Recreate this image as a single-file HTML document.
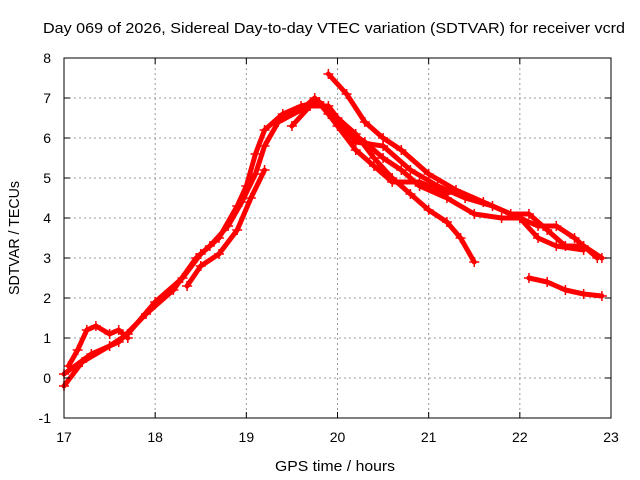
<!DOCTYPE html>
<html><head><meta charset="utf-8"><style>
body{margin:0;background:#fff}
svg{display:block;font-family:"Liberation Sans",sans-serif}
</style></head><body>
<svg id="chart" width="640" height="480">
<text x="334" y="33" text-anchor="middle" font-size="15" textLength="582" lengthAdjust="spacingAndGlyphs">Day 069 of 2026, Sidereal Day-to-day VTEC variation (SDTVAR) for receiver vcrd</text>
<text x="335" y="471" text-anchor="middle" font-size="15" textLength="120" lengthAdjust="spacingAndGlyphs">GPS time / hours</text>
<text transform="translate(19,238) rotate(-90)" text-anchor="middle" font-size="15" textLength="114" lengthAdjust="spacingAndGlyphs">SDTVAR / TECUs</text>
<g id="grid"></g><g id="series"></g>
<rect x="64" y="58" width="547" height="360" fill="none" stroke="#000" stroke-width="1"/>
<g id="ticks"></g>
</svg>
<script>
const xTicks=[17,18,19,20,21,22,23];
const yTicks=[-1,0,1,2,3,4,5,6,7,8];
const s1=[[17.0,-0.2],[17.2,0.4],[17.5,0.8],[17.7,1.1],[18.0,1.9],[18.3,2.5],[18.5,3.1],[18.7,3.5],[18.9,4.3],[19.0,4.8],[19.1,5.6],[19.2,6.2],[19.4,6.6],[19.6,6.8],[19.8,6.9],[20.0,6.5],[20.2,6.1],[20.4,5.5],[20.6,5.0],[20.8,4.6],[21.0,4.2],[21.2,3.9],[21.35,3.5],[21.5,2.9]];
const s2=[[17.0,0.1],[17.3,0.6],[17.6,0.9],[17.9,1.6],[18.2,2.2],[18.45,3.0],[18.6,3.3],[18.8,3.8],[18.95,4.4],[19.1,5.1],[19.2,5.8],[19.35,6.4],[19.6,6.7],[19.75,7.0],[19.9,6.6],[20.1,6.2],[20.3,5.9],[20.5,5.5],[20.7,5.2],[20.9,4.8],[21.2,4.5],[21.5,4.1],[21.8,4.0],[22.0,4.0],[22.2,3.8],[22.4,3.8],[22.6,3.5],[22.85,3.0]];
const s3=[[18.35,2.3],[18.5,2.8],[18.7,3.1],[18.9,3.7],[19.05,4.5],[19.2,5.2]];
const s4=[[19.9,7.6],[20.1,7.1],[20.3,6.4],[20.5,6.0],[20.7,5.7],[21.0,5.1],[21.3,4.7],[21.6,4.4],[21.9,4.1],[22.1,4.1],[22.3,3.7],[22.5,3.3],[22.7,3.3],[22.9,3.0]];
const s5=[[17.05,0.3],[17.15,0.7],[17.25,1.2],[17.35,1.3],[17.5,1.1],[17.6,1.2],[17.7,1.0]];
const s6=[[22.1,2.5],[22.3,2.4],[22.5,2.2],[22.7,2.1],[22.9,2.05]];
const s7=[[19.5,6.3],[19.7,6.8],[19.9,6.8],[20.2,5.9],[20.5,5.8],[20.8,5.2],[21.1,4.8],[21.4,4.5],[21.7,4.3],[22.0,4.0],[22.2,3.5],[22.4,3.3],[22.7,3.2]];
const s8=[[19.8,6.9],[20.0,6.3],[20.2,5.7],[20.4,5.3],[20.6,4.9],[20.9,4.9],[21.2,4.6]];
const allSeries=[s1,s2,s3,s4,s5,s6,s7,s8];
const NS='http://www.w3.org/2000/svg';
function X(h){return 64+(h-17)*547/6;}
function Y(v){return 378-v*40;}
const grid=document.getElementById('grid'),ticks=document.getElementById('ticks'),ser=document.getElementById('series');
function mk(tag,attrs,parent){const e=document.createElementNS(NS,tag);for(const k in attrs)e.setAttribute(k,attrs[k]);parent.appendChild(e);return e;}
xTicks.forEach(t=>{
 if(t>17&&t<23){const g=mk('line',{x1:X(t),x2:X(t),y1:58,y2:418,stroke:'#999','stroke-dasharray':'2,3'},grid);
 
 }
 const l=mk('text',{x:X(t),y:442,'text-anchor':'middle','font-size':14},ticks);l.textContent=t;
 
 
 mk('line',{x1:X(t),x2:X(t),y1:418,y2:412,stroke:'#000'},ticks);mk('line',{x1:X(t),x2:X(t),y1:58,y2:64,stroke:'#000'},ticks);
});
yTicks.forEach(t=>{
 if(t>-1&&t<8){const g=mk('line',{x1:64,x2:611,y1:Y(t),y2:Y(t),stroke:'#999','stroke-dasharray':'2,3'},grid);
 
 }
 const l=mk('text',{x:51,y:Y(t)+5,'text-anchor':'end','font-size':14},ticks);l.textContent=t;
 
 
 mk('line',{x1:64,x2:70,y1:Y(t),y2:Y(t),stroke:'#000'},ticks);mk('line',{x1:605,x2:611,y1:Y(t),y2:Y(t),stroke:'#000'},ticks);
});
allSeries.forEach((s,i)=>{
 const p=mk('polyline',{points:s.map(d=>X(d[0])+','+Y(d[1])).join(' '),fill:'none',stroke:'#f00','stroke-width':5,'stroke-linejoin':'round','stroke-linecap':'round'},ser);
 
 
 s.forEach(d=>{const x=X(d[0]),y=Y(d[1]);
  mk('path',{d:`M${x-5},${y}h10M${x},${y-5}v10`,stroke:'#f00','stroke-width':1.5},ser);});
});
</script>
</body></html>
